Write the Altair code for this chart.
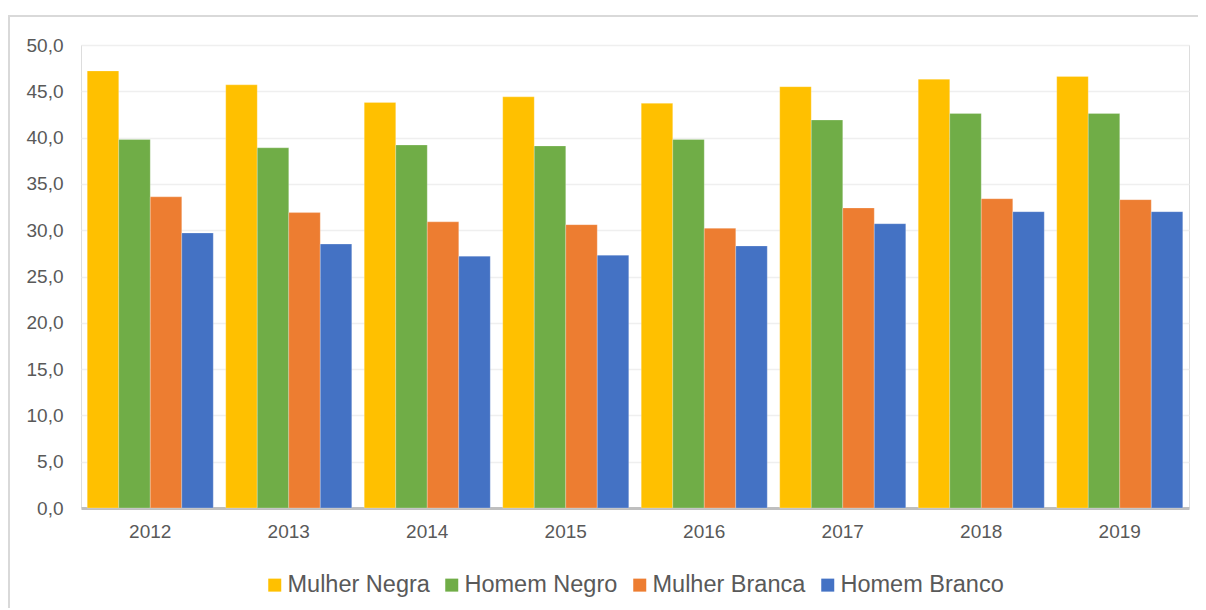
import altair as alt
import pandas as pd

years = ["2012", "2013", "2014", "2015", "2016", "2017", "2018", "2019"]
series = ["Mulher Negra", "Homem Negro", "Mulher Branca", "Homem Branco"]
colors = ["#FFC000", "#70AD47", "#ED7D31", "#4472C4"]

mulher_negra = [47.2, 45.7, 43.8, 44.4, 43.7, 45.5, 46.3, 46.6]
homem_negro = [39.8, 38.9, 39.2, 39.1, 39.8, 41.9, 42.6, 42.6]
mulher_branca = [33.6, 31.9, 30.9, 30.6, 30.2, 32.4, 33.4, 33.3]
homem_branco = [29.7, 28.5, 27.2, 27.3, 28.3, 30.7, 32.0, 32.0]

values = [mulher_negra, homem_negro, mulher_branca, homem_branco]
rows = []
for s, vals in zip(series, values):
    for y, v in zip(years, vals):
        rows.append({"ano": y, "grupo": s, "valor": v})
df = pd.DataFrame(rows)

FONT = "Liberation Sans"
GRAY = "#595959"

bars = alt.Chart(df).mark_bar(stroke="#ffffff", strokeWidth=0.4, strokeOpacity=0.6).encode(
    x=alt.X("ano:N", sort=years, title=None,
            scale=alt.Scale(paddingInner=0.09, paddingOuter=0.045),
            axis=alt.Axis(labelAngle=0, labelFontSize=19, labelFont=FONT, labelColor=GRAY,
                          ticks=False, domain=True, domainColor="#bfbfbf", domainWidth=3,
                          labelPadding=14, grid=False)),
    xOffset=alt.XOffset("grupo:N", sort=series, scale=alt.Scale(paddingInner=0, paddingOuter=0)),
    y=alt.Y("valor:Q", title=None,
            scale=alt.Scale(domain=[0, 50], nice=False),
            axis=alt.Axis(values=[0, 5, 10, 15, 20, 25, 30, 35, 40, 45, 50],
                          labelExpr="replace(format(datum.value, '.1f'), '.', ',')",
                          labelFontSize=19, labelFont=FONT, labelColor=GRAY,
                          ticks=False, domain=False, labelPadding=18,
                          grid=True, gridColor="#efefef", gridWidth=1.5)),
    color=alt.Color("grupo:N", sort=series, title=None,
                    scale=alt.Scale(domain=series, range=colors),
                    legend=alt.Legend(orient="none", legendX=182, legendY=528,
                                      direction="horizontal", columns=4,
                                      symbolType="square", symbolSize=169, symbolStrokeWidth=0,
                                      labelFontSize=23.5, labelFont=FONT, labelLimit=400,
                                      labelColor=GRAY, labelOffset=1, columnPadding=10)),
)

border = alt.Chart(pd.DataFrame({"a": [0]})).mark_rect(
    filled=False, stroke="#d9d9d9", strokeWidth=2
).encode(
    x=alt.value(-72), x2=alt.value(3000), y=alt.value(-29), y2=alt.value(3000)
)

chart = alt.layer(border, bars).properties(
    width=1108, height=463,
    autosize=alt.AutoSizeParams(type="none"),
    padding={"left": 73, "top": 37, "right": 9, "bottom": 100},
).configure_view(stroke=None).configure(background="#ffffff")

chart.save("out.html", embed_options={"renderer": "svg", "actions": False})
